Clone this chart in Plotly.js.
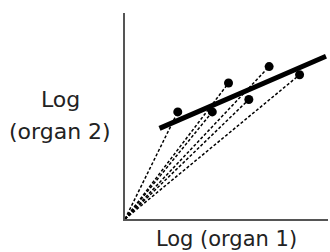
<!DOCTYPE html>
<html>
<head>
<meta charset="utf-8">
<script src="https://cdn.plot.ly/plotly-3.0.1.min.js"></script>
<style>html,body{margin:0;padding:0;background:#fff;}#chart{width:330px;height:252px;}</style>
</head>
<body>
<div id="chart"></div>
<script>
const organ1 = [26, 43, 51, 61, 71, 86];
const organ2 = [52, 52, 66, 58, 74, 70];
// Fitted allometric line endpoints
const fitX = [17, 99];
const fitY = [44, 79];
const xLabel = 'Log (organ 1)';
const yLabelLines = ['Log', '(organ 2)'];

const traces = [];
// dashed rays from origin to each point
organ1.forEach((x, i) => {
  traces.push({
    x: [0, x], y: [0, organ2[i]],
    mode: 'lines', type: 'scatter', hoverinfo: 'skip',
    line: {color: '#000', width: 1.5, dash: '3px,2px'}
  });
});
traces.push({
  x: fitX, y: fitY, mode: 'lines', type: 'scatter',
  line: {color: '#000', width: 5}
});
traces.push({
  x: organ1, y: organ2, mode: 'markers', type: 'scatter',
  marker: {color: '#000', size: 9}
});

const font = {family: 'DejaVu Sans, Verdana, sans-serif', color: '#222'};
const layout = {
  width: 330, height: 252,
  margin: {l: 125, r: 2, t: 13, b: 33, pad: 0},
  showlegend: false,
  paper_bgcolor: '#fff', plot_bgcolor: '#fff',
  xaxis: {
    range: [0, 100], showgrid: false, zeroline: false, showticklabels: false, ticks: '',
    showline: true, linecolor: '#555', linewidth: 2,
    title: {text: xLabel, font: Object.assign({size: 21}, font), standoff: 11}
  },
  yaxis: {
    range: [0, 100], showgrid: false, zeroline: false, showticklabels: false, ticks: '',
    showline: true, linecolor: '#555', linewidth: 2
  },
  annotations: [
    {text: yLabelLines[0], xref: 'paper', yref: 'paper', x: -0.32, y: 0.58, xanchor: 'center', yanchor: 'middle', showarrow: false, font: Object.assign({size: 22}, font)},
    {text: yLabelLines[1], xref: 'paper', yref: 'paper', x: -0.32, y: 0.425, xanchor: 'center', yanchor: 'middle', showarrow: false, font: Object.assign({size: 22}, font)}
  ]
};
Plotly.newPlot('chart', traces, layout, {displayModeBar: false, staticPlot: true});
</script>
</body>
</html>
